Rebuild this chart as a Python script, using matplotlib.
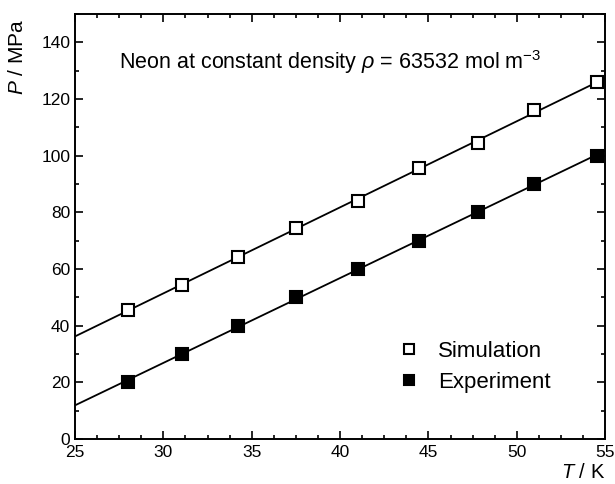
import numpy as np
import matplotlib
matplotlib.use("Agg")
import matplotlib.pyplot as plt
from matplotlib.ticker import MultipleLocator

plt.rcParams['font.family'] = ['Liberation Sans', 'DejaVu Sans']
plt.rcParams['mathtext.fontset'] = 'custom'
plt.rcParams['mathtext.rm'] = 'Liberation Sans'
plt.rcParams['mathtext.it'] = 'Liberation Sans:italic'

# =============================================================================
# Data
# =============================================================================

temp_K = [28.0, 31.05, 34.2, 37.5, 41.0, 44.45, 47.8, 51.0, 54.55]
p_sim = [45.5, 54.5, 64.4, 74.4, 83.9, 95.7, 104.6, 116.0, 126.0]
p_exp = [20.0, 30.0, 40.0, 50.0, 60.0, 70.0, 80.0, 90.0, 100.0]

x_fit = [25, 55]

# =============================================================================
# Plot
# =============================================================================

fig = plt.figure(figsize=(6.15, 4.84), dpi=100)
ax = fig.add_axes([0.122, 0.093, 0.862, 0.878])

# linear fits through each series
for p in (p_sim, p_exp):
    k, b = np.polyfit(temp_K, p, 1)
    xf = np.array(x_fit)
    ax.plot(xf, k * xf + b, color='black', lw=1.3, zorder=2)

ax.plot(temp_K, p_sim, 's', ms=8, mfc='white', mec='black', mew=1.5,
        ls='none', label='Simulation', zorder=3)
ax.plot(temp_K, p_exp, 's', ms=8, mfc='black', mec='black', mew=1.5,
        ls='none', label='Experiment', zorder=3)

ax.set_xlim(25, 55)
ax.set_ylim(0, 150)
ax.xaxis.set_major_locator(MultipleLocator(5))
ax.xaxis.set_minor_locator(MultipleLocator(1.25))
ax.yaxis.set_major_locator(MultipleLocator(20))
ax.yaxis.set_minor_locator(MultipleLocator(10))
ax.set_yticks([0, 20, 40, 60, 80, 100, 120, 140])

ax.tick_params(which='both', direction='in', top=True, right=True,
               width=1.2, labelsize=12.5)
ax.tick_params(axis='x', pad=4)
ax.tick_params(which='major', length=6)
ax.tick_params(which='minor', length=3)
for s in ax.spines.values():
    s.set_linewidth(1.4)

ax.text(27.5, 133, r'Neon at constant density $\rho$ = 63532 mol m$^{\mathregular{-3}}$',
        fontsize=15.5, va='center', ha='left')

ax.set_ylabel(r'$\it{P}$ / MPa', fontsize=15)
ax.yaxis.set_label_coords(-0.09, 0.90)
ax.set_xlabel(r'$\it{T}$ / K', fontsize=14.5)
ax.xaxis.set_label_coords(1.0, -0.078)
ax.xaxis.label.set_horizontalalignment('right')
ax.xaxis.label.set_verticalalignment('center')

ax.legend(loc='center left', bbox_to_anchor=(0.575, 0.17), frameon=False,
          fontsize=16, handlelength=0.8, handletextpad=0.9,
          labelspacing=0.45, markerscale=0.95)

fig.savefig('out.png', dpi=100)
